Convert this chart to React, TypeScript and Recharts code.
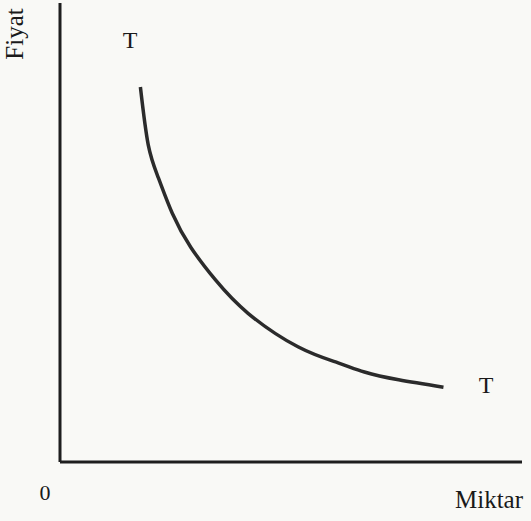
import { LineChart, Line, XAxis, YAxis } from 'recharts';

// demand curve (T-T); axes run 0..100 on both sides
const quantity = [17.4, 19.1, 21.3, 24.3, 28.3, 33.7, 40.7, 51.5, 60.2, 65.9, 73.3, 83.0];
const price = [81.7, 69.1, 61.9, 54.2, 46.8, 39.6, 32.4, 25.1, 21.6, 19.6, 17.9, 16.3];

const data = quantity.map((q, i) => ({ q, p: price[i] }));

const W = 531;
const H = 521;
const font = '"Liberation Serif", "DejaVu Serif", serif';

export default function App() {
  return (
    <div style={{ position: 'absolute', left: 0, top: 0, width: W, height: H, background: '#f9f9f6' }}>
      <LineChart width={W} height={H} data={data} margin={{ top: 3, right: 9, left: 59, bottom: 58 }}>
        <XAxis
          type="number"
          dataKey="q"
          domain={[0, 100]}
          height={1}
          tick={false}
          tickLine={false}
          axisLine={{ stroke: '#1e1e1e', strokeWidth: 3 }}
        />
        <YAxis
          type="number"
          domain={[0, 100]}
          width={1}
          tick={false}
          tickLine={false}
          axisLine={{ stroke: '#1e1e1e', strokeWidth: 3 }}
        />
        <Line
          type="natural"
          dataKey="p"
          stroke="#2b2b2b"
          strokeWidth={3.5}
          dot={false}
          isAnimationActive={false}
        />
      </LineChart>
      <svg width={W} height={H} style={{ position: 'absolute', left: 0, top: 0, pointerEvents: 'none' }}>
        <g fontFamily={font} fill="#1a1a1a">
          <text transform="translate(23,34) rotate(-90)" textAnchor="middle" fontSize={25}>Fiyat</text>
          <text x={130} y={48} textAnchor="middle" fontSize={24}>T</text>
          <text x={486} y={393} textAnchor="middle" fontSize={24}>T</text>
          <text x={45} y={500} textAnchor="middle" fontSize={22}>0</text>
          <text x={455} y={508} fontSize={25}>Miktar</text>
        </g>
      </svg>
    </div>
  );
}
